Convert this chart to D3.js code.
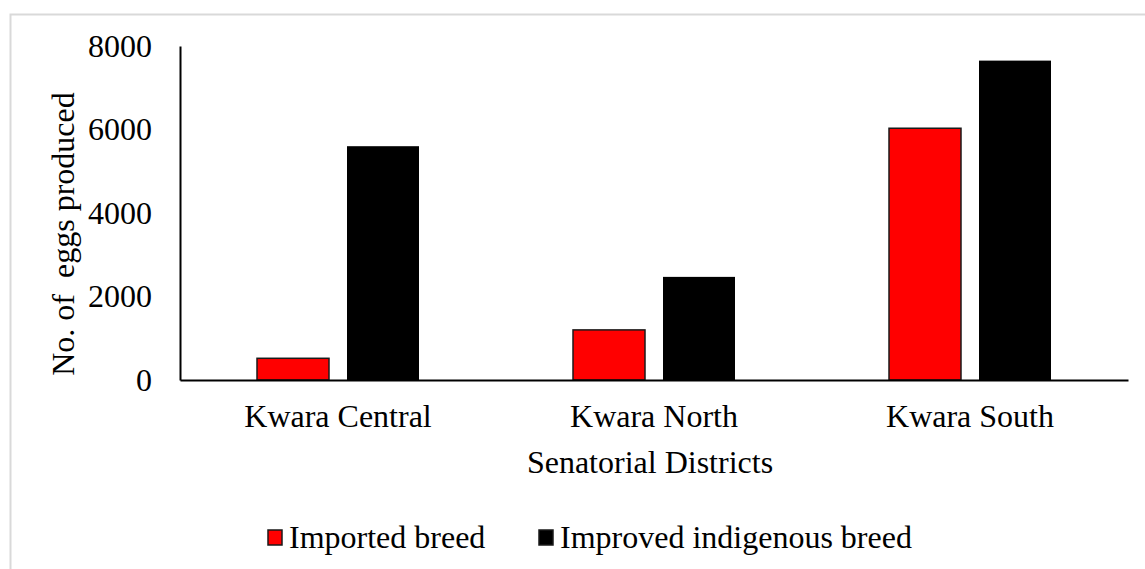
<!DOCTYPE html>
<html>
<head>
<meta charset="utf-8">
<script src="https://cdn.jsdelivr.net/npm/d3@7"></script>
<style>
  body { margin: 0; background: #fff; }
</style>
</head>
<body>
<svg id="chart" width="1145" height="569"></svg>
<script>
var districts = ['Kwara Central', 'Kwara North', 'Kwara South'];
var seriesNames = ['Imported breed', 'Improved indigenous breed'];
var imported = [520, 1200, 6030];
var indigenous = [5600, 2470, 7650];
var yTicks = [0, 2000, 4000, 6000, 8000];
var colors = ['#ff0000', '#000000'];

var FONT = '"Liberation Serif", "Times New Roman", Times, serif';

var svg = d3.select('#chart')
  .attr('font-family', FONT);
var margin = {left: 180, right: 17, top: 46, bottom: 189};
var width = +svg.attr('width'), height = +svg.attr('height');
var innerwidth = width - margin.left - margin.right;
var innerheight = height - margin.top - margin.bottom;

// light frame around the chart area
svg.append('rect')
  .attr('x', 10.5).attr('y', 14.5)
  .attr('width', 1200).attr('height', 700)
  .attr('fill', 'none').attr('stroke', '#d9d9d9').attr('stroke-width', 2);

var data = districts.map((d, i) => ({district: d, values: [imported[i], indigenous[i]]}));

var xscale = d3.scaleBand().domain(districts).range([0, innerwidth]).padding(0);
var xinner = d3.scaleBand().domain(seriesNames).range([77, xscale.bandwidth() - 77]).paddingInner(0.2);
var yscale = d3.scaleLinear().domain([0, 8000]).range([innerheight, 0]);

var g = svg.append('g').attr('transform', `translate(${margin.left},${margin.top})`);

var groups = g.selectAll('g.grp').data(data).enter().append('g')
  .attr('class', 'grp')
  .attr('transform', d => `translate(${xscale(d.district)},0)`);

groups.selectAll('rect').data(d => d.values.map((v, j) => ({name: seriesNames[j], v: v, j: j})))
  .enter().append('rect')
  .attr('x', d => xinner(d.name))
  .attr('y', d => yscale(d.v))
  .attr('width', xinner.bandwidth())
  .attr('height', d => innerheight - yscale(d.v))
  .attr('fill', d => colors[d.j])
  .attr('stroke', d => d.j === 0 ? '#1a1a1a' : 'none')
  .attr('stroke-width', 1.5);

// y axis
var yaxis = g.append('g')
  .call(d3.axisLeft(yscale).tickValues(yTicks).tickSize(0).tickPadding(28).tickFormat(d3.format('d')));
yaxis.attr('font-family', FONT).attr('font-size', 32);
yaxis.select('.domain').attr('stroke', '#000').attr('stroke-width', 2);
yaxis.selectAll('text').attr('fill', '#000');

// x axis
var xaxis = g.append('g').attr('transform', `translate(0,${innerheight})`)
  .call(d3.axisBottom(xscale).tickSize(0).tickPadding(24));
xaxis.attr('font-family', FONT).attr('font-size', 32);
xaxis.select('.domain').attr('stroke', '#000').attr('stroke-width', 2);
xaxis.selectAll('text').attr('fill', '#000');

// axis titles
svg.append('text')
  .attr('transform', 'translate(74,234) rotate(-90)')
  .attr('text-anchor', 'middle')
  .attr('font-size', 32)
  .style('white-space', 'pre')
  .text('No. of  eggs produced');

svg.append('text')
  .attr('x', 650).attr('y', 473)
  .attr('text-anchor', 'middle')
  .attr('font-size', 32)
  .text('Senatorial Districts');

// legend
var legendPos = [268, 539];
seriesNames.forEach((s, i) => {
  var item = svg.append('g').attr('transform', `translate(${legendPos[i]},0)`);
  item.append('rect').attr('x', 0).attr('y', 530).attr('width', 14).attr('height', 15)
    .attr('fill', colors[i]).attr('stroke', '#1a1a1a').attr('stroke-width', 1.5);
  item.append('text').attr('x', 21).attr('y', 548).attr('font-size', 32).text(s);
});
</script>
</body>
</html>
